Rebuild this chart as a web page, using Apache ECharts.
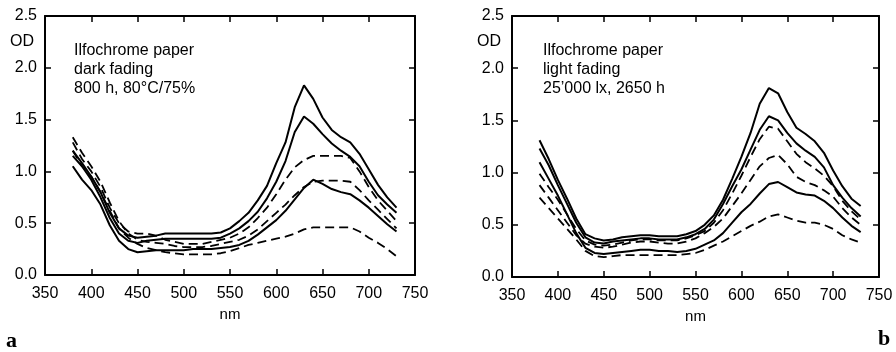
<!DOCTYPE html>
<html>
<head>
<meta charset="utf-8">
<script src="https://cdn.jsdelivr.net/npm/echarts@6/dist/echarts.min.js"></script>
<style>html,body{margin:0;padding:0;background:#fff}#c{width:896px;height:352px}</style>
</head>
<body>
<div id="c"></div>
<script>
// Wavelengths (nm)
const wavelengths = [380,390,400,410,420,430,440,450,460,470,480,490,500,510,520,530,540,550,560,570,580,590,600,610,620,630,640,650,660,670,680,690,700,710,720,730];
const xTicks = [350,400,450,500,550,600,650,700,750];
const yTicks = ["0.0","0.5","1.0","1.5","2.0","2.5"];

// Panel a: dark fading (solid = before, dashed = after)
const darkSolid1 = [1.20,1.08,0.95,0.80,0.60,0.45,0.38,0.36,0.37,0.38,0.40,0.40,0.40,0.40,0.40,0.40,0.41,0.45,0.52,0.60,0.72,0.86,1.08,1.28,1.62,1.83,1.70,1.52,1.40,1.33,1.28,1.17,1.02,0.87,0.75,0.65];
const darkSolid2 = [1.15,1.05,0.92,0.75,0.55,0.40,0.33,0.31,0.33,0.34,0.35,0.35,0.35,0.35,0.35,0.35,0.36,0.40,0.45,0.52,0.61,0.74,0.90,1.10,1.38,1.53,1.46,1.36,1.27,1.20,1.14,1.05,0.90,0.77,0.68,0.60];
const darkSolid3 = [1.05,0.92,0.82,0.68,0.48,0.33,0.25,0.22,0.23,0.24,0.24,0.24,0.24,0.25,0.25,0.25,0.26,0.27,0.29,0.33,0.39,0.46,0.53,0.62,0.73,0.84,0.92,0.88,0.83,0.80,0.78,0.72,0.65,0.57,0.49,0.42];
const darkDash1 = [1.28,1.12,1.00,0.85,0.65,0.50,0.42,0.40,0.40,0.38,0.34,0.32,0.30,0.30,0.30,0.32,0.34,0.36,0.40,0.46,0.55,0.65,0.78,0.92,1.04,1.11,1.15,1.15,1.15,1.15,1.13,1.00,0.85,0.72,0.62,0.52];
const darkDash2 = [1.33,1.18,1.05,0.90,0.70,0.52,0.40,0.34,0.32,0.31,0.30,0.28,0.27,0.27,0.27,0.28,0.30,0.32,0.34,0.38,0.44,0.52,0.60,0.68,0.77,0.85,0.90,0.91,0.91,0.91,0.90,0.82,0.72,0.63,0.54,0.45];
const darkDash3 = [1.20,1.05,0.95,0.80,0.62,0.45,0.36,0.30,0.26,0.24,0.22,0.21,0.20,0.20,0.20,0.20,0.21,0.23,0.26,0.29,0.31,0.33,0.35,0.37,0.40,0.44,0.46,0.46,0.46,0.46,0.46,0.42,0.36,0.31,0.25,0.18];

// Panel b: light fading
const lightSolid1 = [1.31,1.13,0.93,0.75,0.56,0.41,0.37,0.35,0.36,0.38,0.39,0.40,0.40,0.39,0.39,0.39,0.41,0.44,0.50,0.59,0.74,0.94,1.15,1.38,1.66,1.81,1.76,1.58,1.43,1.37,1.30,1.19,1.02,0.87,0.75,0.68];
const lightSolid2 = [1.23,1.07,0.88,0.70,0.52,0.38,0.33,0.32,0.34,0.35,0.36,0.37,0.37,0.36,0.36,0.36,0.38,0.41,0.46,0.55,0.70,0.87,1.03,1.22,1.41,1.54,1.50,1.38,1.28,1.21,1.15,1.05,0.88,0.76,0.66,0.58];
const lightSolid3 = [1.10,0.94,0.78,0.60,0.42,0.28,0.23,0.22,0.23,0.24,0.25,0.26,0.26,0.25,0.25,0.24,0.25,0.27,0.31,0.35,0.42,0.52,0.62,0.70,0.80,0.89,0.91,0.86,0.81,0.79,0.78,0.73,0.66,0.57,0.49,0.43];
const lightDash1 = [0.99,0.86,0.74,0.60,0.46,0.35,0.31,0.30,0.31,0.33,0.35,0.36,0.36,0.35,0.35,0.35,0.37,0.40,0.44,0.52,0.64,0.80,0.97,1.15,1.32,1.44,1.42,1.30,1.18,1.10,1.04,0.97,0.87,0.73,0.63,0.55];
const lightDash2 = [0.88,0.76,0.64,0.52,0.40,0.32,0.29,0.28,0.29,0.31,0.33,0.34,0.34,0.33,0.32,0.32,0.34,0.37,0.42,0.48,0.56,0.68,0.80,0.93,1.06,1.14,1.17,1.08,0.96,0.91,0.88,0.83,0.77,0.66,0.57,0.50];
const lightDash3 = [0.76,0.66,0.56,0.46,0.36,0.25,0.20,0.19,0.20,0.21,0.21,0.21,0.21,0.21,0.21,0.21,0.22,0.23,0.26,0.30,0.34,0.39,0.44,0.49,0.53,0.58,0.60,0.57,0.54,0.52,0.52,0.50,0.46,0.40,0.36,0.33];

const FONT = "'Liberation Sans', Arial, sans-serif";
const INK = '#000';
const Y_MAX = parseFloat(yTicks[yTicks.length-1]);

function pairs(vals){ return wavelengths.map((w,i)=>[w, vals[i]]); }

function series(vals, dashed, gi, frame){
  const s = {
    type:'line', xAxisIndex: gi*2, yAxisIndex: gi*2, data: pairs(vals),
    showSymbol:false, symbol:'none', smooth:false,
    lineStyle:{color:INK, width: dashed?1.8:2, type: dashed?[9,5]:'solid'}
  };
  if (frame) {
    // top frame line at the OD maximum of the scale
    s.markLine = {silent:true, symbol:['none','none'], label:{show:false},
      lineStyle:{color:INK, width:2, type:'solid'}, data:[{yAxis:Y_MAX}]};
  }
  return s;
}

function axesFor(gi){
  const xMin = xTicks[0], xMax = xTicks[xTicks.length-1];
  const line = () => ({show:true, onZero:false, lineStyle:{color:INK, width:2}});
  const tick = () => ({show:true, inside:true, length:6, lineStyle:{color:INK, width:1.5}});
  const xs = [
    {type:'value', gridIndex:gi, position:'bottom', min:xMin, max:xMax, interval:50,
      axisLine:line(), axisTick:tick(), splitLine:{show:false},
      name:'nm', nameLocation:'middle', nameGap:32, nameTextStyle:{fontFamily:FONT, fontSize:15, color:INK},
      axisLabel:{margin:11, fontFamily:FONT, fontSize:16, color:INK}},
    {type:'value', gridIndex:gi, position:'top', min:xMin, max:xMax, interval:50,
      axisLine:line(), axisTick:tick(), splitLine:{show:false},
      axisLabel:{show:false}}
  ];
  const ys = [
    {type:'value', gridIndex:gi, position:'left', min:0, max:Y_MAX, interval:0.5,
      axisLine:line(), axisTick:tick(), splitLine:{show:false},
      axisLabel:{margin:8, fontFamily:FONT, fontSize:16, color:INK, formatter:(v)=>v.toFixed(1)}},
    {type:'value', gridIndex:gi, position:'right', min:0, max:Y_MAX, interval:0.5,
      axisLine:line(), axisTick:tick(), splitLine:{show:false},
      axisLabel:{show:false}}
  ];
  return {xs, ys};
}

const a0 = axesFor(0), a1 = axesFor(1);

function label(text, left, top, extra){
  return {text, left, top, padding:0, itemGap:0,
    textStyle:Object.assign({fontFamily:FONT, fontSize:16, fontWeight:'normal', color:INK, lineHeight:19}, extra||{})};
}

const option = {
  animation:false,
  title:[
    label('OD', 10, 32),
    label('OD', 477, 32),
    label('Ilfochrome paper\ndark fading\n800 h, 80°C/75%', 74, 41),
    label('Ilfochrome paper\nlight fading\n25\u2019000 lx, 2650 h', 543, 41),
    label('a', 6, 330, {fontFamily:"'Liberation Serif', serif", fontWeight:'bold', fontSize:22, lineHeight:22}),
    label('b', 878, 328, {fontFamily:"'Liberation Serif', serif", fontWeight:'bold', fontSize:22, lineHeight:22})
  ],
  grid:[
    {left:45, top:16, width:370, height:259},
    {left:512, top:16, width:367, height:261}
  ],
  xAxis:[...a0.xs, ...a1.xs],
  yAxis:[...a0.ys, ...a1.ys],
  series:[
    series(darkSolid1,false,0,true), series(darkSolid2,false,0), series(darkSolid3,false,0),
    series(darkDash1,true,0), series(darkDash2,true,0), series(darkDash3,true,0),
    series(lightSolid1,false,1,true), series(lightSolid2,false,1), series(lightSolid3,false,1),
    series(lightDash1,true,1), series(lightDash2,true,1), series(lightDash3,true,1)
  ]
};

const chart = echarts.init(document.getElementById('c'), null, {renderer:'canvas'});
chart.setOption(option);
</script>
</body>
</html>
